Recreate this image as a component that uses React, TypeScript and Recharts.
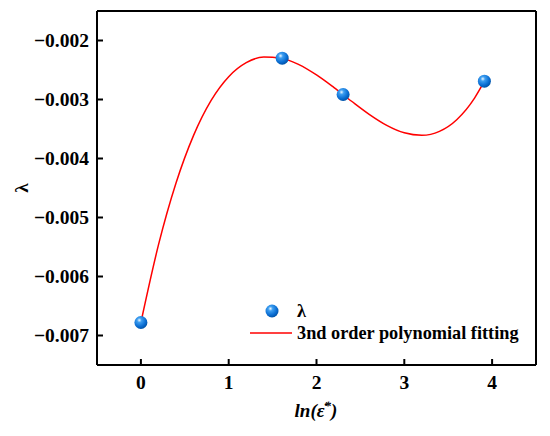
import {
  ComposedChart,
  Line,
  Scatter,
  XAxis,
  YAxis,
  ReferenceLine,
} from "recharts";

// measured points
const pointX = [0, 1.609, 2.303, 3.912];
const pointY = [-0.00678, -0.0023, -0.002915, -0.00269];

// fitted curve
const fitX = [0, 0.2, 0.4, 0.6, 0.8, 1.0, 1.2, 1.4, 1.6, 1.8, 2.0, 2.2, 2.4, 2.6, 2.8, 3.0, 3.2, 3.4, 3.6, 3.8, 3.912];
const fitY = [
  -0.00678, -0.005465, -0.004416, -0.003608, -0.003015, -0.002613, -0.002376, -0.00228,
  -0.002299, -0.002409, -0.002584, -0.002799, -0.00303, -0.003251, -0.003438, -0.003565,
  -0.003607, -0.00354, -0.003338, -0.002976, -0.00269,
];

const xTicks = [0, 1, 2, 3, 4];
const yTicks = [-0.007, -0.006, -0.005, -0.004, -0.003, -0.002];

const FONT = "'Liberation Serif', 'Times New Roman', serif";

const points = pointX.map((x, i) => ({ x, y: pointY[i] }));
const fit = fitX.map((x, i) => ({ x, y: fitY[i] }));

function YTick({ x, y, payload }: any) {
  return (
    <g>
      <line x1={x} y1={y} x2={x + 6} y2={y} stroke="#000" strokeWidth={2} />
      <text
        x={x - 8}
        y={y}
        dy={6.5}
        textAnchor="end"
        fontFamily={FONT}
        fontWeight="bold"
        fontSize={19.5}
        fill="#000"
      >
        {payload.value.toFixed(3).replace("-", "\u2212")}
      </text>
    </g>
  );
}

function XTick({ x, y, payload }: any) {
  return (
    <g>
      <line x1={x} y1={y} x2={x} y2={y - 6} stroke="#000" strokeWidth={2} />
      <text
        x={x}
        y={y + 24}
        textAnchor="middle"
        fontFamily={FONT}
        fontWeight="bold"
        fontSize={19.5}
        fill="#000"
      >
        {payload.value}
      </text>
    </g>
  );
}

function Ball({ cx, cy }: any) {
  return <circle cx={cx} cy={cy} r={6.5} fill="url(#ballGrad)" />;
}

function BallGradient({ id }: { id: string }) {
  return (
    <radialGradient id={id} cx="38%" cy="32%" r="70%">
      <stop offset="0%" stopColor="#eef7ff" />
      <stop offset="25%" stopColor="#3d9ef0" />
      <stop offset="70%" stopColor="#0a6dd2" />
      <stop offset="100%" stopColor="#0052a6" />
    </radialGradient>
  );
}

function LegendBox() {
  return (
    <div
      style={{
        position: "absolute",
        left: 250,
        top: 300,
        fontFamily: FONT,
        fontWeight: "bold",
        fontSize: 18.3,
        color: "#000",
        lineHeight: "22px",
      }}
    >
      <div style={{ display: "flex", alignItems: "center", height: 22 }}>
        <svg width={46} height={16}>
          <defs>
            <BallGradient id="ballGradL" />
          </defs>
          <circle cx={22} cy={8} r={6.5} fill="url(#ballGradL)" />
        </svg>
        <span style={{ marginLeft: 1 }}>λ</span>
      </div>
      <div style={{ display: "flex", alignItems: "center", height: 22 }}>
        <svg width={46} height={16}>
          <line x1={0} y1={8} x2={42} y2={8} stroke="#ff0000" strokeWidth={1.5} />
        </svg>
        <span style={{ marginLeft: 1 }}>3nd order polynomial fitting</span>
      </div>
    </div>
  );
}

export default function App() {
  return (
    <div style={{ position: "absolute", left: 0, top: 0, width: 550, height: 436, background: "#fff" }}>
      <ComposedChart width={550} height={436} margin={{ top: 11, right: 14, bottom: 0, left: 0 }}>
        <defs>
          <BallGradient id="ballGrad" />
        </defs>
        <XAxis
          dataKey="x"
          type="number"
          domain={[-0.5, 4.5]}
          ticks={xTicks}
          height={71}
          tickSize={0}
          tickMargin={0}
          tickLine={false}
          axisLine={{ stroke: "#000", strokeWidth: 2 }}
          tick={<XTick />}
          allowDataOverflow
          label={() => (
            <text
              x={316}
              y={417}
              textAnchor="middle"
              fontFamily={FONT}
              fontWeight="bold"
              fontStyle="italic"
              fontSize={19}
              fill="#000"
            >
              ln(ε̇
              <tspan dy={-7} fontSize={13}>*</tspan>
              <tspan dy={7}>)</tspan>
            </text>
          )}
        />
        <YAxis
          dataKey="y"
          type="number"
          domain={[-0.0075, -0.0015]}
          ticks={yTicks}
          width={97}
          tickSize={0}
          tickMargin={0}
          tickLine={false}
          axisLine={{ stroke: "#000", strokeWidth: 2 }}
          tick={<YTick />}
          allowDataOverflow
          label={() => (
            <text
              x={22}
              y={188}
              transform="rotate(-90 22 188)"
              textAnchor="middle"
              dy={6}
              fontFamily={FONT}
              fontWeight="bold"
              fontSize={19}
              fill="#000"
            >
              λ
            </text>
          )}
        />
        <ReferenceLine y={-0.0015} stroke="#000" strokeWidth={2} />
        <ReferenceLine x={4.5} stroke="#000" strokeWidth={2} />
        <Line
          data={fit}
          dataKey="y"
          type="monotone"
          stroke="#ff0000"
          strokeWidth={1.5}
          dot={false}
          isAnimationActive={false}
        />
        <Scatter data={points} dataKey="y" shape={<Ball />} isAnimationActive={false} />
      </ComposedChart>
      <LegendBox />
    </div>
  );
}
